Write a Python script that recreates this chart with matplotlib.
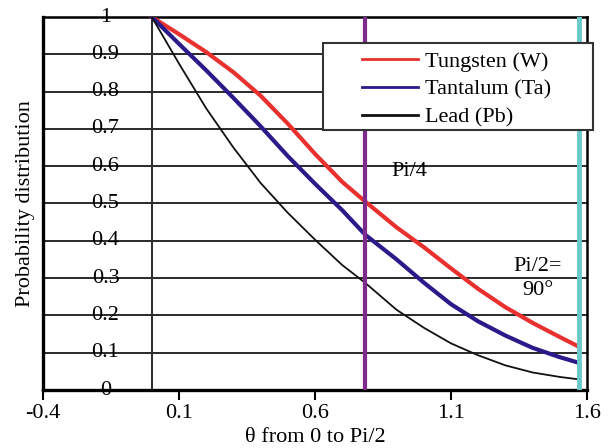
"""Angular probability distribution for W, Ta and Pb."""
import matplotlib
matplotlib.use("Agg")
import matplotlib.pyplot as plt
from matplotlib.patches import Rectangle

# values
theta = [0.0, 0.1, 0.2, 0.3, 0.4, 0.5, 0.6, 0.7, 0.785, 0.9, 1.0,
         1.1, 1.2, 1.3, 1.4, 1.5, 1.565]
tungsten = [1.0, 0.954, 0.906, 0.852, 0.789, 0.714, 0.633, 0.558, 0.505,
            0.436, 0.383, 0.326, 0.271, 0.222, 0.180, 0.142, 0.118]
tantalum = [1.0, 0.928, 0.857, 0.783, 0.707, 0.627, 0.553, 0.482, 0.416,
            0.350, 0.288, 0.230, 0.184, 0.146, 0.113, 0.088, 0.074]
lead = [1.0, 0.875, 0.755, 0.650, 0.555, 0.475, 0.403, 0.335, 0.287,
        0.215, 0.167, 0.125, 0.093, 0.066, 0.047, 0.035, 0.029]
labels = ["Tungsten (W)", "Tantalum (Ta)", "Lead (Pb)"]
x_ticks = [-0.4, 0.1, 0.6, 1.1, 1.6]
y_ticks = [0.0, 0.1, 0.2, 0.3, 0.4, 0.5, 0.6, 0.7, 0.8, 0.9, 1.0]
y_tick_labels = ["0", "0.1", "0.2", "0.3", "0.4", "0.5", "0.6", "0.7",
                 "0.8", "0.9", "1"]
pi_4 = 0.785
pi_2 = 1.571

plt.rcParams["font.family"] = ["Liberation Serif", "DejaVu Serif"]
plt.rcParams["font.size"] = 16

W, H = 613, 448
fig = plt.figure(figsize=(W / 100, H / 100), dpi=100)
ax = fig.add_axes([43 / W, 1 - 390 / H, 544 / W, 373 / H])

for y in y_ticks:
    ax.axhline(y, color="#2a2a2a", linewidth=1.4, zorder=1)
ax.axvline(0.0, color="#2a2a2a", linewidth=1.4, zorder=1)

ax.plot(theta, tungsten, color="#e8302e", linewidth=3.0, label=labels[0], zorder=3)
ax.plot(theta, tantalum, color="#2a1a8a", linewidth=3.0, label=labels[1], zorder=3)
ax.plot(theta, lead, color="#111111", linewidth=1.3, label=labels[2], zorder=3)

ax.axvline(pi_4, color="#7d2a8c", linewidth=3.0, zorder=4)
ax.axvline(pi_2, color="#6cc9c9", linewidth=3.5, zorder=4)

ax.set_xlim(-0.4, 1.6)
ax.set_ylim(0, 1)
ax.set_xticks(x_ticks, [f"{v:g}" for v in x_ticks])
ax.set_yticks([])
ax.tick_params(axis="x", direction="out", length=7, width=1.5, pad=3)

for y, lab in zip(y_ticks, y_tick_labels):
    ax.text(-0.17, y, lab, ha="center", va="center", zorder=2)

ax.text(0.88, 0.587, "Pi/4", ha="left", va="center")
ax.text(1.42, 0.33, "Pi/2=", ha="center", va="center")
ax.text(1.42, 0.268, "90°", ha="center", va="center")

for side in ("left", "bottom"):
    ax.spines[side].set_linewidth(2.4)
for side in ("top", "right"):
    ax.spines[side].set_linewidth(1.8)

ax.set_xlabel("θ from 0 to Pi/2", labelpad=4)
ax.set_ylabel("Probability distribution", labelpad=6)

# legend box is wider than its entries in the original
box = Rectangle((323 / W, 1 - 130 / H), 270 / W, 87 / H,
                transform=fig.transFigure, facecolor="white",
                edgecolor="#333333", linewidth=1.5, zorder=5)
fig.add_artist(box)
leg = fig.legend(loc="upper left", bbox_to_anchor=(362 / W, 1 - 51 / H),
                 frameon=False, handlelength=2.5, labelspacing=0.34,
                 borderpad=0, handletextpad=0.35, borderaxespad=0)
leg.set_zorder(6)
for line in leg.get_lines():
    line.set_linewidth(2.0)

fig.savefig("out.png", dpi=100)
